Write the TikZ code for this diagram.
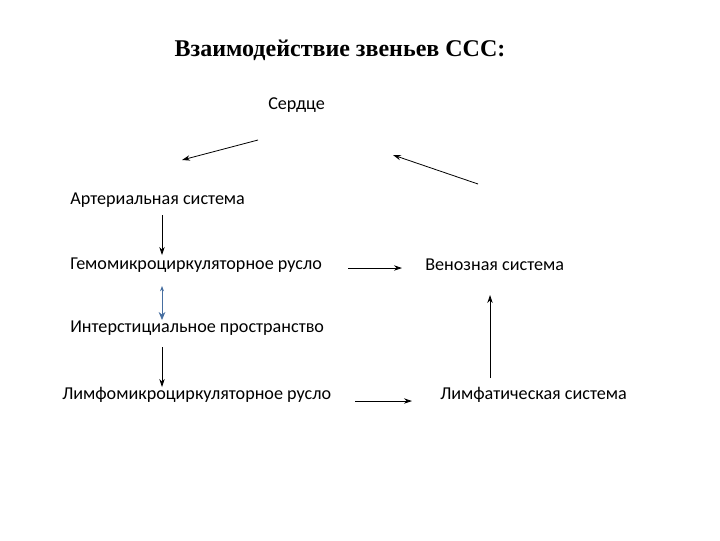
\documentclass[tikz,border=0pt]{standalone}
\usepackage{fontspec}
\setmainfont{Liberation Serif}
\newfontfamily\lab{Carlito}
\usetikzlibrary{arrows.meta}
\begin{document}
\begin{tikzpicture}[x=0.75pt,y=-0.75pt,
  lbl/.style={font=\lab\fontsize{13.6}{15}\selectfont,anchor=west,inner sep=0pt},
  arr/.style={-{Stealth[length=6pt,width=4pt]},line width=0.6pt}]
\useasboundingbox (0,0) rectangle (720,540);
\node[font=\bfseries\fontsize{18}{20}\selectfont] (t) at (340,50) {Взаимодействие звеньев ССС:};
\node[lbl] (s) at (268,105) {Сердце};
\coordinate (a1) at (258,140); \coordinate (a2) at (182,160);
\coordinate (b1) at (478,184); \coordinate (b2) at (393,155);
\draw[arr] (a1) -- (a2);
\draw[arr] (b1) -- (b2);
\node[lbl] (art) at (70,200) {Артериальная система};
\node[lbl] (gem) at (70,265) {Гемомикроциркуляторное русло};
\node[lbl] (ven) at (425,265) {Венозная система};
\node[lbl] (int) at (70,328) {Интерстициальное пространство};
\node[lbl] (lmr) at (62,395) {Лимфомикроциркуляторное русло};
\node[lbl] (lms) at (440,395) {Лимфатическая система};
\coordinate (c1) at (162,215); \coordinate (c2) at (162,255);
\draw[arr] (c1) -- (c2);
\coordinate (d1) at (162,286); \coordinate (d2) at (162,320);
\draw[{Stealth[length=4pt,width=3pt]}-{Stealth[length=6pt,width=5pt]},line width=0.6pt,color={rgb,255:red,70;green,110;blue,160}] (d1) -- (d2);
\coordinate (e1) at (162,347); \coordinate (e2) at (162,387);
\draw[arr] (e1) -- (e2);
\coordinate (f1) at (348,268); \coordinate (f2) at (402,268);
\draw[arr] (f1) -- (f2);
\coordinate (g1) at (355,401); \coordinate (g2) at (412,401);
\draw[arr] (g1) -- (g2);
\coordinate (h1) at (490,378); \coordinate (h2) at (490,295);
\draw[arr] (h1) -- (h2);
\end{tikzpicture}
\end{document}
